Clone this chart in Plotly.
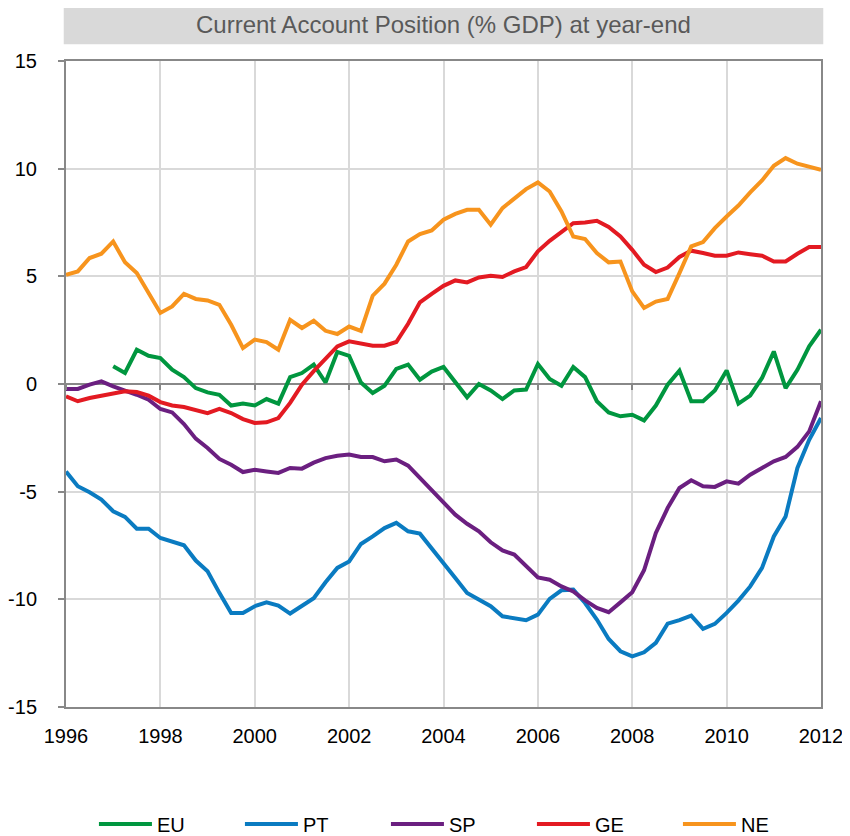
import plotly.graph_objects as go

# Quarterly observations, 1996Q1 .. 2012Q1
quarters = [1996 + q / 4 for q in range(65)]

EU = [None, None, None, None,
      0.82, 0.51, 1.59, 1.31, 1.2, 0.66, 0.32, -0.19, -0.39, -0.5, -1.0, -0.91,
      -1.0, -0.7, -0.91, 0.32, 0.51, 0.9, 0.07, 1.49, 1.31, 0.07, -0.42, -0.08,
      0.7, 0.9, 0.2, 0.58, 0.79, 0.07, -0.62, 0.0, -0.3, -0.7, -0.3, -0.26,
      0.93, 0.23, -0.08, 0.79, 0.32, -0.8, -1.32, -1.5, -1.43, -1.69, -1.0, -0.03,
      0.62, -0.8, -0.8, -0.3, 0.63, -0.91, -0.54, 0.28, 1.51, -0.19, 0.66, 1.75,
      2.52]

PT = [-4.06, -4.75, -5.03, -5.37, -5.91, -6.17, -6.72, -6.72, -7.15, -7.31, -7.49,
      -8.2, -8.7, -9.7, -10.63, -10.63, -10.32, -10.14, -10.29, -10.66, -10.32,
      -9.95, -9.21, -8.54, -8.24, -7.43, -7.08, -6.69, -6.45, -6.84, -6.95, -7.66,
      -8.36, -9.01, -9.7, -10.01, -10.32, -10.79, -10.9, -10.97, -10.71, -9.98,
      -9.58, -9.55, -10.17, -10.94, -11.84, -12.41, -12.65, -12.46, -12.02, -11.13,
      -10.97, -10.76, -11.37, -11.14, -10.63, -10.06, -9.4, -8.54, -7.08, -6.15,
      -3.9, -2.59, -1.58]

SP = [-0.23, -0.23, -0.03, 0.12, -0.11, -0.3, -0.5, -0.73, -1.16, -1.32, -1.86,
      -2.54, -2.97, -3.48, -3.75, -4.09, -3.98, -4.06, -4.13, -3.9, -3.93, -3.65,
      -3.44, -3.33, -3.28, -3.39, -3.39, -3.59, -3.51, -3.79, -4.36, -4.91, -5.45,
      -6.07, -6.49, -6.84, -7.35, -7.73, -7.92, -8.47, -8.98, -9.09, -9.4, -9.63,
      -10.05, -10.4, -10.6, -10.14, -9.67, -8.65, -6.92, -5.76, -4.83, -4.47, -4.75,
      -4.78, -4.52, -4.63, -4.21, -3.9, -3.59, -3.39, -2.92, -2.2, -0.8]

GE = [-0.57, -0.8, -0.65, -0.54, -0.42, -0.34, -0.37, -0.54, -0.84, -1.0, -1.07,
      -1.22, -1.35, -1.16, -1.35, -1.63, -1.81, -1.78, -1.58, -0.88, -0.03, 0.6,
      1.2, 1.75, 1.98, 1.87, 1.78, 1.78, 1.95, 2.8, 3.79, 4.19, 4.56, 4.81, 4.72,
      4.95, 5.03, 4.97, 5.23, 5.43, 6.16, 6.65, 7.08, 7.47, 7.5, 7.58, 7.29, 6.85,
      6.23, 5.54, 5.2, 5.41, 5.9, 6.19, 6.08, 5.96, 5.96, 6.11, 6.03, 5.96, 5.69,
      5.69, 6.05, 6.36, 6.36]

NE = [5.07, 5.23, 5.85, 6.05, 6.62, 5.65, 5.15, 4.22, 3.3, 3.6, 4.19, 3.95, 3.88,
      3.68, 2.75, 1.67, 2.06, 1.95, 1.59, 2.98, 2.6, 2.94, 2.47, 2.32, 2.67, 2.47,
      4.1, 4.66, 5.54, 6.62, 6.96, 7.13, 7.63, 7.9, 8.09, 8.09, 7.4, 8.17, 8.63,
      9.05, 9.36, 8.94, 8.01, 6.85, 6.73, 6.08, 5.65, 5.69, 4.3, 3.53, 3.83, 3.95,
      5.15, 6.39, 6.59, 7.24, 7.78, 8.29, 8.9, 9.45, 10.13, 10.49, 10.23, 10.07,
      9.95]

series_names = ["EU", "PT", "SP", "GE", "NE"]
series_values = [EU, PT, SP, GE, NE]
series_colors = ["#00963f", "#0a7bc1", "#6b1f80", "#e31a22", "#f7941d"]

x_ticks = [1996, 1998, 2000, 2002, 2004, 2006, 2008, 2010, 2012]
x_tick_labels = ["1996", "1998", "2000", "2002", "2004", "2006", "2008", "2010", "2012"]
y_ticks = [-15, -10, -5, 0, 5, 10, 15]
y_tick_labels = ["-15", "-10", "-5", "0", "5", "10", "15"]
title_text = "Current Account Position (% GDP) at year-end"

FONT = "Liberation Sans, Arial, sans-serif"
AXIS_GREY = "#888888"
GRID_GREY = "#d9d9d9"

fig = go.Figure()
for name, vals, col in zip(series_names, series_values, series_colors):
    fig.add_trace(go.Scatter(x=quarters, y=vals, name=name, mode="lines",
                             line=dict(color=col, width=4), connectgaps=False))

# helper trace for the tick axis drawn on the zero line
fig.add_trace(go.Scatter(x=[], y=[], xaxis="x2", yaxis="y", showlegend=False,
                         hoverinfo="skip"))

# the page body adds an 8px offset, so the figure is 8px smaller on each leading side
fig.update_layout(
    width=842, height=828,
    margin=dict(l=58, r=29, t=53, b=129, autoexpand=False),
    paper_bgcolor="white", plot_bgcolor="white",
    font=dict(family=FONT, size=20, color="black"),
    showlegend=True,
    legend=dict(orientation="h", x=0.037, xanchor="left", y=-0.181, yanchor="middle",
                entrywidth=78, entrywidthmode="pixels", itemwidth=53,
                font=dict(size=20, color="black"), tracegroupgap=0,
                bgcolor="rgba(0,0,0,0)"),
    xaxis=dict(range=[1996, 2012], tickvals=x_ticks, ticktext=x_tick_labels,
               showgrid=True, gridcolor=GRID_GREY, gridwidth=2,
               showline=True, linecolor=AXIS_GREY, linewidth=2, mirror=True,
               ticks="", ticklabelstandoff=10, zeroline=False, automargin=False,
               tickfont=dict(size=20, color="black")),
    xaxis2=dict(range=[1996, 2012], tickvals=x_ticks, overlaying="x", anchor="free",
                position=0.5, side="bottom", showticklabels=False, showgrid=False,
                showline=False, ticks="outside", ticklen=5, tickwidth=2,
                tickcolor=AXIS_GREY, zeroline=False, automargin=False),
    yaxis=dict(range=[-15, 15], tickvals=y_ticks, ticktext=y_tick_labels,
               showgrid=True, gridcolor=GRID_GREY,
               gridwidth=2, showline=True, linecolor=AXIS_GREY, linewidth=2,
               mirror=True, ticks="outside", ticklen=6, tickwidth=2,
               tickcolor=AXIS_GREY, zeroline=True, zerolinecolor=AXIS_GREY,
               zerolinewidth=2, ticklabelstandoff=17, automargin=False,
               tickfont=dict(size=20, color="black")),
    shapes=[dict(type="rect", xref="paper", yref="paper", x0=-0.003, x1=1.003,
                 y0=1.026, y1=1.087, fillcolor="#d9d9d9", line=dict(width=0),
                 layer="below")],
    annotations=[dict(text=title_text, xref="paper", yref="paper", x=0.5, y=1.0565,
                      xanchor="center", yanchor="middle", showarrow=False,
                      font=dict(family=FONT, size=24, color="#595959"))],
)

fig.write_html("out.html")
